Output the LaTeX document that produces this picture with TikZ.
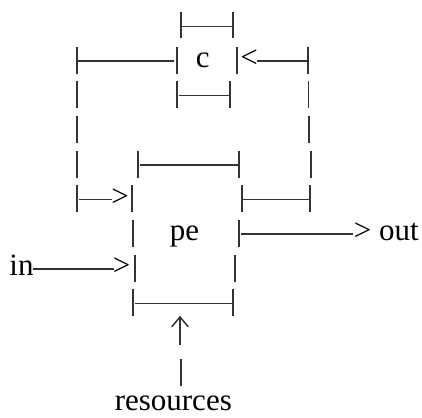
\documentclass[tikz,border=0pt]{standalone}
\usepackage{fontspec}
\setmainfont{Liberation Serif}
\begin{document}
\begin{tikzpicture}[x=1pt,y=-1pt,
  bar/.style={line width=1.9pt,line cap=butt,draw=black!80},
  dsh/.style={line width=1.5pt,line cap=butt,draw=black!80},
  lbl/.style={inner sep=0pt,anchor=base,font=\fontsize{31}{35}\selectfont}]
\useasboundingbox (0,0) rectangle (422,417);
% text
\node[lbl] (c)   at (202.7,67.65) {c};
\node[lbl] (lt)  at (249,67.65) {<};
\node[lbl] (gt1) at (120,206.25) {>};
\node[lbl] (pe)  at (184.5,240.9) {pe};
\node[lbl] (gt2) at (362.5,240.9) {>};
\node[lbl] (out) at (399,240.9) {out};
\node[lbl] (in)  at (21.5,275.55) {in};
\node[lbl] (gt3) at (121.7,275.55) {>};
\node[lbl,text depth=0pt] (res) at (173.3,410.5) {resources};
% up arrow
\coordinate (uptip) at (180,317);
\draw[dsh,line cap=round,line join=miter] (172,326.5) -- (uptip) -- (188,326.5);
\draw[dsh] (uptip) -- (180,345);
% row 1
\draw[bar] (180.7,12) -- ++(0,26);
\draw[bar] (232.7,12) -- ++(0,26);
\draw[dsh] (182,26.3) -- (231.5,26.3);
% row 2
\draw[bar] (76.7,46.65) -- ++(0,27);
\draw[dsh] (78,60.95) -- (174,60.95);
\draw[bar] (176.7,46.65) -- ++(0,27);
\draw[bar] (237.3,46.65) -- ++(0,27);
\draw[dsh] (257,60.95) -- (306.5,60.95);
\draw[bar] (307.7,46.65) -- ++(0,27);
% row 3
\draw[bar] (77,81.3) -- ++(0,27);
\draw[bar] (177.3,81.3) -- ++(0,27);
\draw[dsh] (178.5,95.6) -- (229,95.6);
\draw[bar] (230,81.3) -- ++(0,27);
\draw[bar] (308.5,81.3) -- ++(0,27);
% row 4
\draw[bar] (77,115.95) -- ++(0,27);
\draw[bar] (309,115.95) -- ++(0,27);
% row 5
\draw[bar] (77,150.6) -- ++(0,27);
\draw[bar] (138.3,150.6) -- ++(0,27);
\draw[dsh] (139.5,164.9) -- (238,164.9);
\draw[bar] (239.3,150.6) -- ++(0,27);
\draw[bar] (310.8,150.6) -- ++(0,27);
% row 6
\draw[bar] (77.3,185.25) -- ++(0,27);
\draw[dsh] (78.5,199.55) -- (112,199.55);
\draw[bar] (131.7,185.25) -- ++(0,27);
\draw[bar] (241.7,185.25) -- ++(0,27);
\draw[dsh] (243,199.55) -- (309,199.55);
\draw[bar] (310.3,185.25) -- ++(0,27);
% row 7
\draw[bar] (133.3,219.9) -- ++(0,27);
\draw[bar] (239.3,219.9) -- ++(0,27);
\draw[dsh] (240.5,234.2) -- (353,234.2);
% row 8
\draw[dsh] (33,268.85) -- (113.5,268.85);
\draw[bar] (135,254.55) -- ++(0,27);
\draw[bar] (235,254.55) -- ++(0,27);
% row 9
\draw[bar] (133.3,289.2) -- ++(0,27);
\draw[dsh] (134.5,303.5) -- (232,303.5);
\draw[bar] (233.3,289.2) -- ++(0,27);
% row 11
\draw[bar] (181,358.5) -- ++(0,27);
\end{tikzpicture}
\end{document}
